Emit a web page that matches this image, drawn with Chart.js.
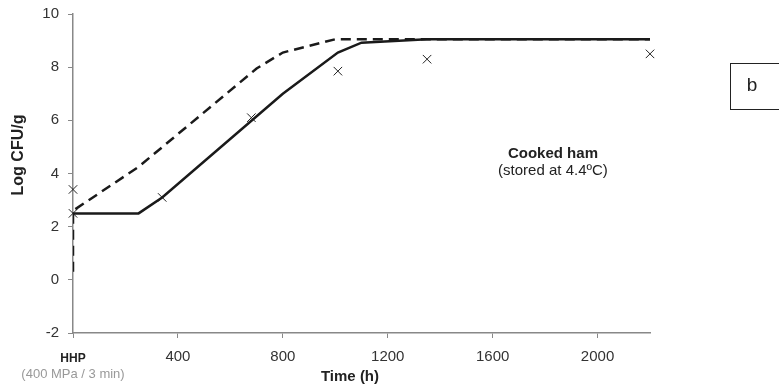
<!DOCTYPE html>
<html>
<head>
<meta charset="utf-8">
<script src="https://cdn.jsdelivr.net/npm/chart.js@4/dist/chart.umd.min.js"></script>
<style>
  html, body { margin: 0; padding: 0; background: #fff; }
  #wrap { width: 779px; height: 392px; position: relative; }
</style>
</head>
<body>
<div id="wrap"><canvas id="chart"></canvas></div>
<script>
// --- data ---
const solidTime = [0, 250, 340, 800, 1010, 1100, 1350, 2200];
const solidLog  = [2.5, 2.5, 3.1, 7.0, 8.55, 8.92, 9.05, 9.05];

const dashedTime = [0, 0, 250, 700, 800, 1000, 2200];
const dashedLog  = [0.3, 2.6, 4.25, 7.95, 8.55, 9.05, 9.05];

const obsTime = [0, 0, 340, 680, 1010, 1350, 2200];
const obsLog  = [3.4, 2.5, 3.1, 6.1, 7.85, 8.3, 8.5];

const xTicks = [0, 400, 800, 1200, 1600, 2000];

const toPts = (xs, ys) => xs.map((x, i) => ({ x: x, y: ys[i] }));

const FONT = 'Liberation Sans, Arial, sans-serif';

// texts drawn on top (axis titles, annotation, HHP note, panel letter)
const notes = {
  id: 'notes',
  afterDraw(chart) {
    const ctx = chart.ctx;
    const xs = chart.scales.x, ys = chart.scales.y;
    ctx.save();
    ctx.textAlign = 'center';
    ctx.textBaseline = 'middle';

    ctx.fillStyle = '#222';
    ctx.font = 'bold 15px ' + FONT;
    ctx.fillText('Cooked ham', xs.getPixelForValue(1830), ys.getPixelForValue(4.75));
    ctx.font = '15px ' + FONT;
    ctx.fillText('(stored at 4.4ºC)', xs.getPixelForValue(1830), ys.getPixelForValue(4.1));

    // axis titles
    ctx.font = 'bold 15px ' + FONT;
    ctx.fillText('Time (h)', 350, 377);
    ctx.save();
    ctx.translate(19, 155);
    ctx.rotate(-Math.PI / 2);
    ctx.font = 'bold 16px ' + FONT;
    ctx.fillText('Log CFU/g', 0, 0);
    ctx.restore();

    const x0 = xs.getPixelForValue(0);
    ctx.font = 'bold 12px ' + FONT;
    ctx.fillText('HHP', x0, 359);
    ctx.fillStyle = '#999';
    ctx.font = '13px ' + FONT;
    ctx.fillText('(400 MPa / 3 min)', x0, 374);

    // panel letter box
    ctx.strokeStyle = '#222';
    ctx.lineWidth = 1;
    ctx.strokeRect(730.5, 63.5, 60, 46);
    ctx.fillStyle = '#222';
    ctx.font = '19px ' + FONT;
    ctx.fillText('b', 752, 86);
    ctx.restore();
  }
};

new Chart(document.getElementById('chart').getContext('2d'), {
  type: 'scatter',
  data: {
    datasets: [
      {
        data: toPts(solidTime, solidLog),
        showLine: true,
        borderColor: '#1a1a1a',
        borderWidth: 2.5,
        pointRadius: 0,
        tension: 0
      },
      {
        data: toPts(dashedTime, dashedLog),
        showLine: true,
        borderColor: '#1a1a1a',
        borderWidth: 2.5,
        borderDash: [10, 6],
        pointRadius: 0,
        tension: 0
      },
      {
        data: toPts(obsTime, obsLog),
        showLine: false,
        pointStyle: 'crossRot',
        pointRadius: 6,
        borderColor: '#222',
        borderWidth: 1,
        clip: false
      }
    ]
  },
  options: {
    responsive: true,
    maintainAspectRatio: false,
    animation: false,
    layout: { padding: { left: 0, right: 129, top: 14, bottom: 0 } },
    plugins: { legend: { display: false }, tooltip: { enabled: false } },
    scales: {
      x: {
        type: 'linear',
        min: 0, max: 2200,
        afterBuildTicks: (axis) => { axis.ticks = xTicks.map(v => ({ value: v })); },
        afterFit: (axis) => { axis.height = 59; axis.paddingLeft = 0; axis.paddingRight = 0; },
        border: { color: '#888', width: 1.5 },
        grid: { drawOnChartArea: false, drawTicks: true, tickLength: 5, color: '#888' },
        ticks: {
          color: '#333',
          font: { family: FONT, size: 15 },
          padding: 10,
          maxRotation: 0,
          callback: (v) => v === 0 ? '' : v
        }
      },
      y: {
        min: -2, max: 10,
        ticks: {
          stepSize: 2,
          color: '#333',
          font: { family: FONT, size: 15 },
          padding: 9
        },
        afterFit: (axis) => { axis.width = 73; axis.paddingTop = 0; axis.paddingBottom = 0; },
        border: { color: '#888', width: 1.5 },
        grid: { drawOnChartArea: false, drawTicks: true, tickLength: 5, color: '#888' }
      }
    }
  },
  plugins: [notes]
});
</script>
</body>
</html>
